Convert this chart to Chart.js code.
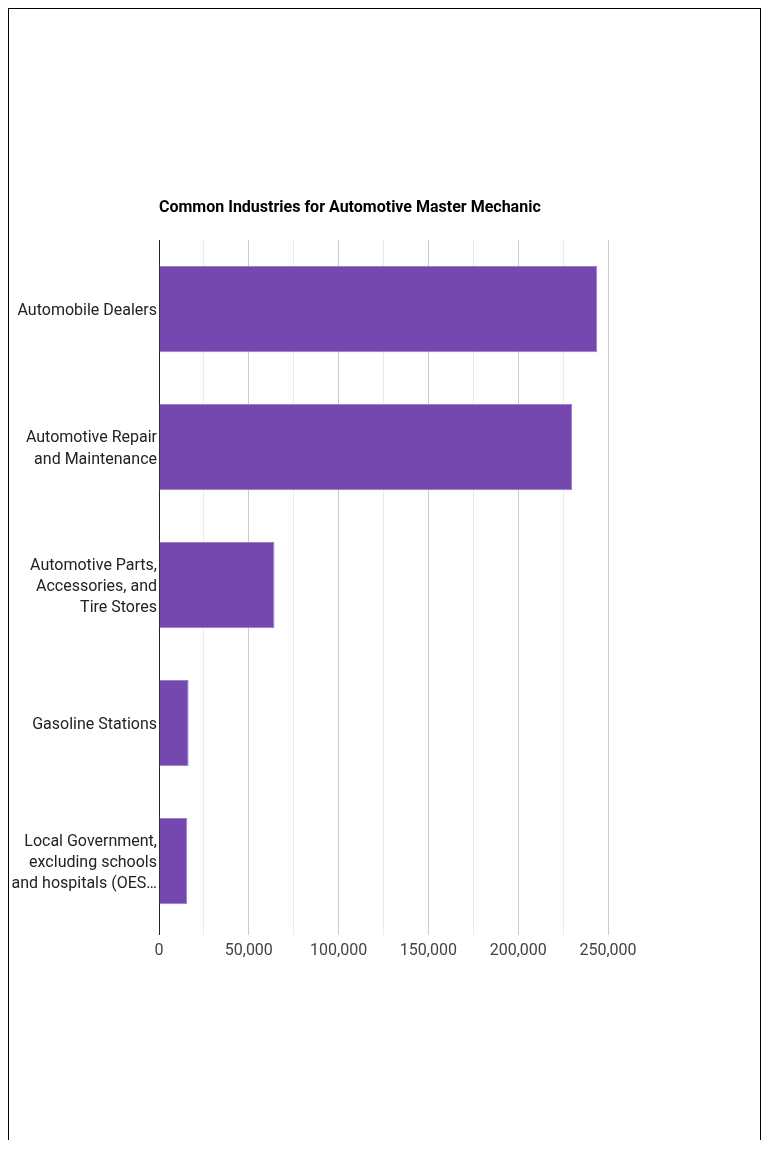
<!DOCTYPE html>
<html>
<head>
<meta charset="utf-8">
<script src="https://cdn.jsdelivr.net/npm/chart.js@4"></script>
<style>
    body { margin: 0; background: #fff; }
    #frame {
        position: absolute; left: 8px; top: 8px;
        width: 751px; height: 1131px;
        border: 1px solid #000; border-bottom: none;
    }
    #wrap { position: absolute; left: 0; top: 0; width: 770px; height: 1173px; }
</style>
</head>
<body>
<div id="frame"></div>
<div id="wrap"><canvas id="myChart"></canvas></div>
<script>
const chartTitle = 'Common Industries for Automotive Master Mechanic';

const industries = [
    'Automobile Dealers',
    ['Automotive Repair', 'and Maintenance'],
    ['Automotive Parts,', 'Accessories, and', 'Tire Stores'],
    'Gasoline Stations',
    ['Local Government,', 'excluding schools', 'and hospitals (OES\u2026']
];
const employment = [244000, 230000, 64300, 16500, 15700];

const xTicks = [0, 50000, 100000, 150000, 200000, 250000];

// title drawn at the left edge of the plot area
const titlePlugin = {
    id: 'leftTitle',
    afterDraw(chart) {
        const ctx = chart.ctx;
        ctx.save();
        ctx.font = 'bold 16px Roboto';
        ctx.fillStyle = '#000';
        ctx.textBaseline = 'middle';
        ctx.textAlign = 'left';
        ctx.fillText(chartTitle, chart.chartArea.left, 208);
        ctx.restore();
    }
};

const ctx = document.getElementById('myChart');

new Chart(ctx, {
    type: 'bar',
    data: {
        labels: industries,
        datasets: [{
            data: employment,
            backgroundColor: '#7448ae',
            borderColor: '#9a7fcf',
            borderWidth: 1,
            categoryPercentage: 1,
            barPercentage: 0.625
        }]
    },
    options: {
        indexAxis: 'y',
        responsive: true,
        maintainAspectRatio: false,
        animation: false,
        layout: {
            padding: { left: 0, right: 162, top: 240, bottom: 0 }
        },
        plugins: {
            legend: { display: false },
            title: { display: false },
            tooltip: { enabled: false }
        },
        scales: {
            x: {
                min: 0,
                max: 250000,
                afterFit(scale) { scale.height = 243; },
                afterBuildTicks(scale) {
                    const t = [];
                    for (let v = 0; v <= 250000; v += 25000) t.push({ value: v });
                    scale.ticks = t;
                },
                ticks: {
                    autoSkip: false,
                    maxRotation: 0,
                    padding: 6,
                    color: '#444',
                    font: { family: 'Roboto', size: 16 },
                    callback: v => xTicks.includes(v) ? v.toLocaleString('en-US') : ''
                },
                grid: {
                    drawTicks: true,
                    tickLength: 5,
                    color: c => c.tick.value === 0 ? '#222' : (c.tick.value % 50000 === 0 ? '#cccccc' : '#ebebeb')
                },
                border: { display: false }
            },
            y: {
                afterFit(scale) { scale.width = 159; },
                ticks: {
                    padding: 2,
                    labelOffset: 2,
                    color: '#222',
                    font: { family: 'Roboto', size: 16, lineHeight: 1.33 }
                },
                grid: { display: false, drawTicks: false },
                border: { display: true, color: '#222', width: 1 }
            }
        }
    },
    plugins: [titlePlugin]
});
</script>
</body>
</html>
